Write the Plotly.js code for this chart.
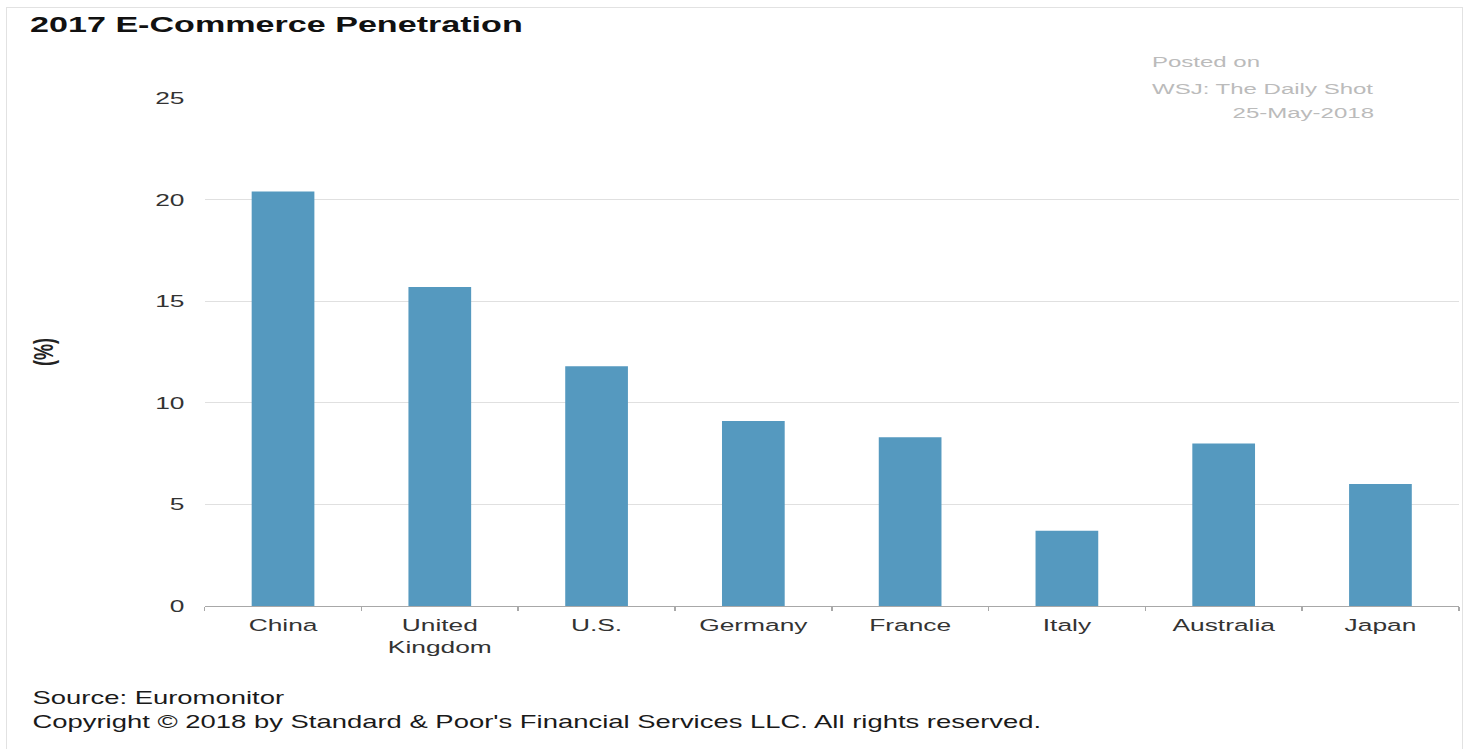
<!DOCTYPE html>
<html>
<head>
<meta charset="utf-8">
<script src="https://cdn.plot.ly/plotly-3.0.1.min.js"></script>
<style>
  html, body { margin: 0; padding: 0; background: #ffffff; overflow: hidden; width: 1465px; height: 749px; }
  #frame { position: absolute; left: 6px; top: 7px; width: 1455px; height: 760px;
           border-top: 1px solid #e2e2e2; border-left: 1px solid #e2e2e2; border-right: 1px solid #e2e2e2; }
  #chart { position: absolute; left: 0; top: 0; width: 945px; height: 749px;
           transform: scaleX(1.5503); transform-origin: 0 0; }
</style>
</head>
<body>
<div id="frame"></div>
<div id="chart"></div>
<script>
// ---- data ----
const countries = ["China", "United<br>Kingdom", "U.S.", "Germany", "France", "Italy", "Australia", "Japan"];
const penetration = [20.4, 15.7, 11.8, 9.1, 8.3, 3.7, 8.0, 6.0];
const yTickVals = [0, 5, 10, 15, 20, 25];
const chartTitle = "2017 E-Commerce Penetration";
const yTitle = "(%)";
const postedLines = ["Posted on", "WSJ: The Daily Shot", "25-May-2018"];
const sourceText = "Source: Euromonitor";
const copyrightText = "Copyright © 2018 by Standard & Poor's Financial Services LLC. All rights reserved.";

const FONT = "Liberation Sans, Arial, Helvetica, sans-serif";

const trace = {
  type: "bar",
  x: countries,
  y: penetration,
  width: 0.4,
  marker: { color: "#5599bf", line: { width: 0 } },
  hoverinfo: "x+y"
};

const layout = {
  width: 945,
  height: 749,
  paper_bgcolor: "rgba(0,0,0,0)",
  plot_bgcolor: "rgba(0,0,0,0)",
  margin: { l: 132, r: 4, t: 98, b: 142.5, pad: 0 },
  showlegend: false,
  font: { family: FONT, size: 17, color: "#333333" },
  title: {
    text: "<b>" + chartTitle + "</b>",
    font: { family: FONT, size: 22, color: "#111111" },
    xref: "container", yref: "container",
    x: 19.4 / 945, xanchor: "left",
    y: 1 - 24 / 749, yanchor: "middle"
  },
  xaxis: {
    type: "category",
    showgrid: false,
    showline: true,
    linecolor: "#a8a8a8",
    linewidth: 1,
    ticks: "outside",
    tickson: "boundaries",
    ticklen: 4,
    tickcolor: "#a8a8a8",
    ticklabelstandoff: 4,
    tickfont: { family: FONT, size: 17, color: "#333333" },
    fixedrange: true
  },
  yaxis: {
    range: [0, 25],
    tickvals: yTickVals,
    ticktext: yTickVals.map(String),
    showgrid: true,
    gridcolor: "#e0e0e0",
    gridwidth: 1,
    zeroline: false,
    showline: false,
    ticks: "",
    ticklabelstandoff: 12,
    tickfont: { family: FONT, size: 17, color: "#333333" },
    title: { text: "<b>" + yTitle + "</b>", font: { family: FONT, size: 18, color: "#222222" }, standoff: 60 },
    fixedrange: true
  },
  annotations: [
    { text: postedLines[0], xref: "paper", yref: "paper", x: (740.5 - 132) / 809, y: (606.5 - 61) / 508.5,
      xanchor: "left", yanchor: "middle", showarrow: false, font: { family: FONT, size: 15.5, color: "#bbbbbb" } },
    { text: postedLines[1], xref: "paper", yref: "paper", x: (740.5 - 132) / 809, y: (606.5 - 88) / 508.5,
      xanchor: "left", yanchor: "middle", showarrow: false, font: { family: FONT, size: 15.5, color: "#bbbbbb" } },
    { text: postedLines[2], xref: "paper", yref: "paper", x: (887.5 - 132) / 809, y: (606.5 - 113) / 508.5,
      xanchor: "right", yanchor: "middle", showarrow: false, font: { family: FONT, size: 15.5, color: "#bbbbbb" } },
    { text: sourceText, xref: "paper", yref: "paper", x: (19.4 - 132) / 809, y: (606.5 - 699) / 508.5,
      xanchor: "left", yanchor: "middle", showarrow: false, font: { family: FONT, size: 17.7, color: "#1a1a1a" } },
    { text: copyrightText, xref: "paper", yref: "paper", x: (19.4 - 132) / 809, y: (606.5 - 723) / 508.5,
      xanchor: "left", yanchor: "middle", showarrow: false, font: { family: FONT, size: 17.7, color: "#1a1a1a" } }
  ]
};

Plotly.newPlot("chart", [trace], layout, { staticPlot: true, displayModeBar: false, responsive: false });
</script>
</body>
</html>
